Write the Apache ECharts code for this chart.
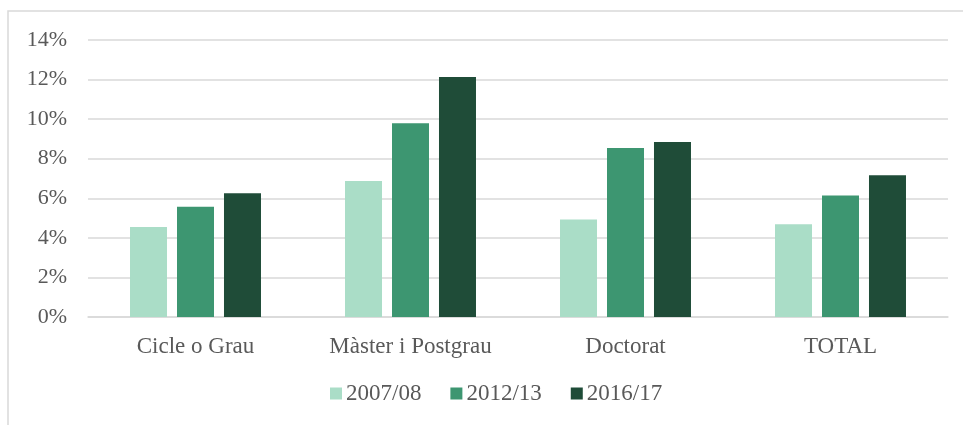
<!DOCTYPE html>
<html>
<head>
<meta charset="utf-8">
<script src="https://cdn.jsdelivr.net/npm/echarts@6/dist/echarts.min.js"></script>
<style>
  html, body { margin: 0; padding: 0; background: #fff; }
  #chart { width: 963px; height: 425px; }
</style>
</head>
<body>
<div id="chart"></div>
<script>
// categories i sèries
const categories = ['Cicle o Grau', 'Màster i Postgrau', 'Doctorat', 'TOTAL']
const s2007 = [4.55, 6.87, 4.93, 4.69]
const s2012 = [5.57, 9.79, 8.54, 6.14]
const s2016 = [6.26, 12.13, 8.84, 7.17]
const seriesNames = ['2007/08', '2012/13', '2016/17']
const colors = ['#aaddc7', '#3d9671', '#1f4c38']

const font = '"Liberation Serif", "DejaVu Serif", serif'
const textColor = '#595959'

let chart = echarts.init(document.getElementById('chart'))
let option = {
  animation: false,
  color: colors,
  textStyle: { fontFamily: font },
  graphic: [
    {
      type: 'rect',
      shape: { x: 8, y: 11, width: 1000, height: 500 },
      style: { fill: 'none', stroke: '#d9d9d9', lineWidth: 1.5 },
      silent: true,
    },
  ],
  grid: {
    top: 40,
    left: 88,
    right: 15,
    bottom: 108,
  },
  legend: {
    bottom: 15,
    left: 325,
    itemWidth: 12,
    itemHeight: 12,
    itemGap: 29,
    icon: 'rect',
    textStyle: { color: textColor, fontSize: 23, fontFamily: font, padding: [0, 0, 0, -1] },
    data: seriesNames,
  },
  xAxis: {
    type: 'category',
    data: categories,
    axisLine: { show: true, lineStyle: { color: '#d9d9d9', width: 1.5 } },
    axisTick: { show: false },
    axisLabel: { color: textColor, fontSize: 23, fontFamily: font, margin: 18 },
  },
  yAxis: {
    type: 'value',
    min: 0,
    max: 14,
    interval: 2,
    axisLine: { show: false },
    axisTick: { show: false },
    axisLabel: {
      color: textColor,
      fontSize: 22,
      fontFamily: font,
      margin: 21,
      formatter: v => v + '%',
    },
    splitLine: { lineStyle: { color: '#d9d9d9', width: 1.5 } },
  },
  series: [
    { name: seriesNames[0], type: 'bar', data: s2007, barWidth: 37, barGap: '27%' },
    { name: seriesNames[1], type: 'bar', data: s2012, barWidth: 37, barGap: '27%' },
    { name: seriesNames[2], type: 'bar', data: s2016, barWidth: 37, barGap: '27%' },
  ],
}
chart.setOption(option)
</script>
</body>
</html>
